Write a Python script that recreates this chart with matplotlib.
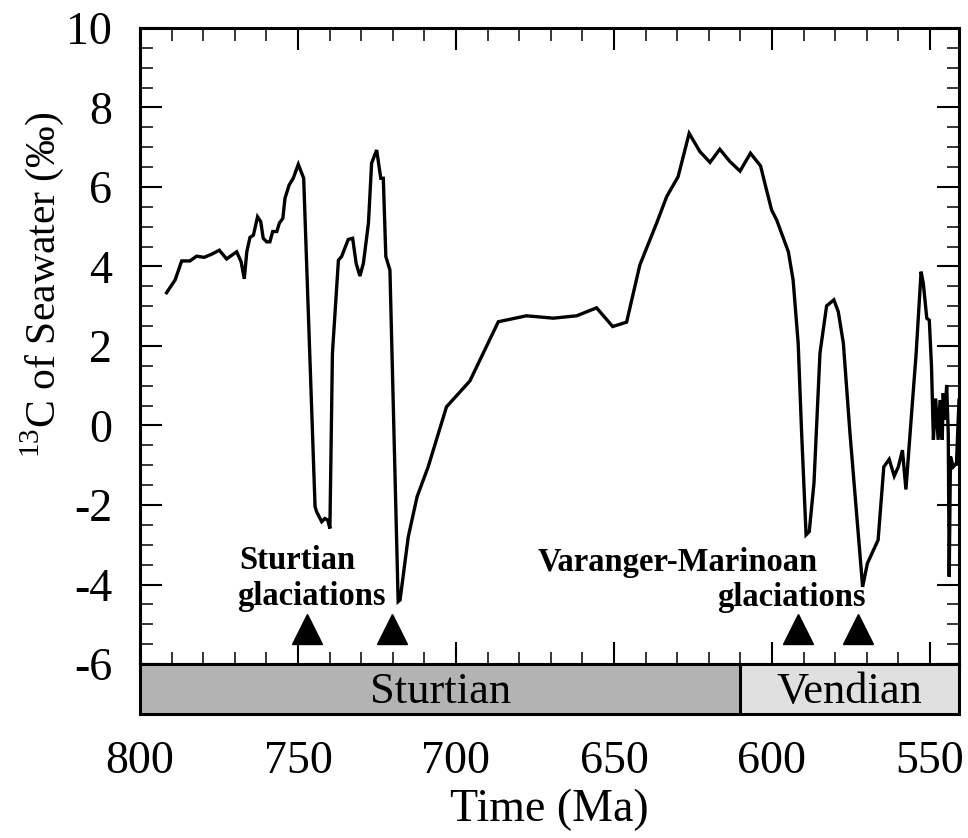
import matplotlib
matplotlib.use("Agg")
import matplotlib.pyplot as plt
from matplotlib.ticker import MultipleLocator

plt.rcParams['font.family'] = ['Liberation Serif', 'DejaVu Serif']
plt.rcParams['mathtext.fontset'] = 'custom'
plt.rcParams['mathtext.rm'] = 'Liberation Serif'
plt.rcParams['axes.unicode_minus'] = False

# d13C curve (age in Ma, value in permil)
edad = [791.6, 788.9, 786.8, 784.2, 782.1, 779.7, 777.3, 774.9, 772.6, 769.4,
        768.0, 767.0, 766.2, 765.2, 764.1, 762.8, 761.8, 761.0, 759.9, 758.9,
        758.0, 756.7, 755.9, 754.8, 754.1, 752.8, 751.5, 749.9, 748.2, 744.6,
        744.1, 742.5, 741.5, 740.6, 739.9, 739.1, 737.2, 736.2, 734.1, 732.7,
        731.6, 730.4, 729.3, 727.7, 726.7, 725.1, 723.8, 723.0, 722.2, 720.9,
        718.3, 717.7, 715.1, 712.3, 708.8, 703.0, 695.6, 686.6, 677.7, 669.2,
        661.8, 655.5, 650.4, 646.0, 641.8, 636.5, 633.3, 629.7, 626.2, 622.8,
        619.6, 616.5, 613.3, 610.1, 606.8, 603.6, 601.7, 600.1, 598.5, 594.8,
        593.3, 591.7, 590.6, 589.2, 588.2, 586.7, 584.8, 582.7, 580.4, 579.0,
        577.4, 575.3, 572.7, 571.3, 569.8, 566.4, 564.6, 562.9, 561.3, 560.0,
        558.7, 557.6, 555.8, 554.4, 552.8, 552.1, 551.0, 550.2, 549.5, 548.9,
        548.2, 547.4, 546.8, 546.1, 545.8, 545.3, 544.7, 544.2, 543.9, 543.5,
        542.6, 541.6, 540.8]
d13c = [3.34, 3.66, 4.14, 4.14, 4.26, 4.23, 4.31, 4.41, 4.19, 4.37,
        4.12, 3.69, 4.37, 4.73, 4.79, 5.25, 5.13, 4.71, 4.62, 4.62,
        4.88, 4.88, 5.09, 5.21, 5.72, 6.05, 6.22, 6.57, 6.22, -2.04,
        -2.17, -2.42, -2.34, -2.38, -2.59, 1.82, 4.16, 4.25, 4.68, 4.71,
        4.08, 3.76, 4.08, 5.09, 6.60, 6.93, 6.22, 6.22, 4.25, 3.91,
        -4.43, -4.39, -2.80, -1.79, -1.04, 0.47, 1.12, 2.61, 2.76, 2.70,
        2.76, 2.96, 2.49, 2.60, 4.04, 5.09, 5.76, 6.26, 7.35, 6.89,
        6.62, 6.95, 6.64, 6.40, 6.85, 6.53, 5.92, 5.42, 5.17, 4.37,
        3.66, 2.07, -0.20, -2.75, -2.67, -1.45, 1.82, 3.01, 3.16, 2.86,
        2.07, -0.20, -2.71, -4.06, -3.47, -2.88, -1.04, -0.85, -1.27, -1.04,
        -0.62, -1.61, 0.31, 1.77, 3.87, 3.58, 2.70, 2.65, 1.48, -0.36,
        0.68, -0.36, 0.64, -0.36, 0.81, 0.14, 1.02, -0.20, -3.80, -0.78,
        -1.04, -0.95, 0.64]

glaciaciones = [747.2, 720.3, 591.8, 572.8]

periodos = ['Sturtian', 'Vendian']
periodo_inicio = [800, 610]
periodo_fin = [610, 540]
periodo_color = ['#b3b3b3', '#e0e0e0']

W, H = 968, 838
fig = plt.figure(figsize=(W / 100, H / 100), dpi=100)
ax = fig.add_axes([140 / W, 1 - 664 / H, 819 / W, 636 / H])
ax_b = fig.add_axes([140 / W, 1 - 714 / H, 819 / W, 50 / H], sharex=ax)

ax.plot(edad, d13c, color='black', lw=2.4, solid_joinstyle='miter')
ax.plot(glaciaciones, [-5.12] * len(glaciaciones), linestyle='none',
        marker='^', markersize=21.5, color='black')

fb = dict(fontsize=23.5, fontweight='bold', ha='center', va='baseline')
ax.text(750.3, -3.62, 'Sturtian', **fb)
ax.text(745.7, -4.52, 'glaciations', **fb)
ax.text(629.9, -3.66, 'Varanger-Marinoan', **fb)
ax.text(594.0, -4.55, 'glaciations', **fb)

ax.set_xlim(800, 540.8)
ax.set_ylim(-6, 10)
ax.xaxis.set_major_locator(MultipleLocator(50))
ax.xaxis.set_minor_locator(MultipleLocator(10))
ax.yaxis.set_major_locator(MultipleLocator(2))
ax.yaxis.set_minor_locator(MultipleLocator(0.5))
ax.tick_params(which='both', direction='in', top=True, right=True,
               labelbottom=False, labelsize=33)
ax.tick_params(which='major', length=16, width=1.5, pad=20)
ax.tick_params(which='minor', length=9, width=1.1)
ax.set_ylabel(r'$^{13}$C of Seawater (‰)', fontsize=30)
ax.yaxis.set_label_coords(-0.090, 0.596)
for s in ax.spines.values():
    s.set_linewidth(2.2)

for nombre, a, b, c in zip(periodos, periodo_inicio, periodo_fin, periodo_color):
    ax_b.axvspan(a, b, color=c, lw=0)
    ax_b.text((a + max(b, 540.8)) / 2, 0.45, nombre, fontsize=32,
              ha='center', va='center')
ax_b.axvline(periodo_inicio[1], color='black', lw=2.2)
ax_b.set_ylim(0, 1)
ax_b.set_yticks([])
ax_b.tick_params(axis='x', which='both', length=0, labelsize=33, pad=19)
ax_b.set_xlabel('Time (Ma)', fontsize=33, labelpad=4)
for s in ax_b.spines.values():
    s.set_linewidth(2.2)

fig.savefig('out.png', dpi=100)
